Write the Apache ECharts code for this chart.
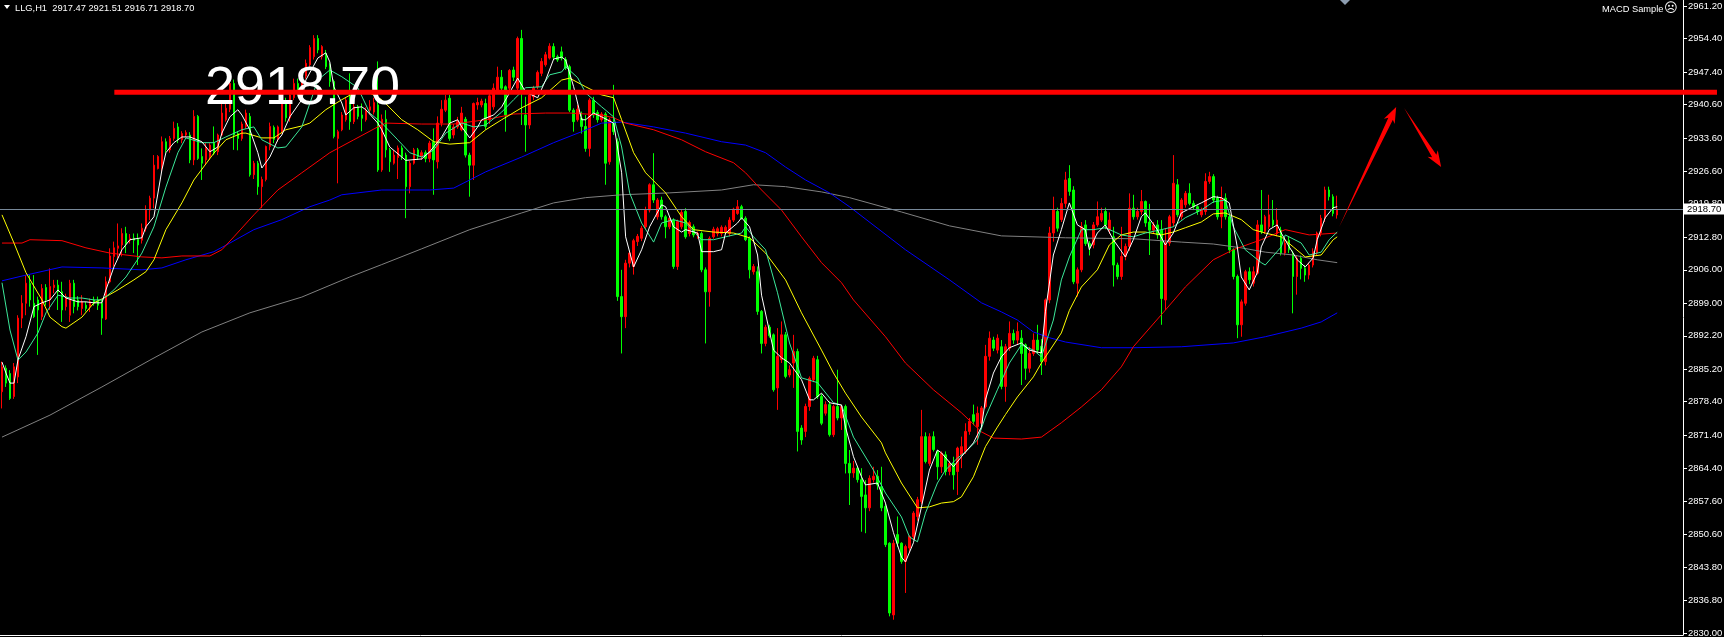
<!DOCTYPE html>
<html><head><meta charset="utf-8">
<script src="https://cdn.jsdelivr.net/npm/echarts@6/dist/echarts.min.js"></script>
<style>html,body{margin:0;padding:0;background:#000;overflow:hidden}#c{width:1724px;height:637px}</style>
</head><body><div id="c"></div>
<script>
// ---- data (H1 bars) ----
const symbol = 'LLG,H1';
const indicatorName = 'MACD Sample';
const open = [2880.5,2885.4,2884.3,2879.5,2883.6,2895.9,2899.0,2903.2,2899.0,2899.7,
2896.2,2902.3,2899.7,2902.3,2902.8,2901.4,2898.3,2896.5,2903.2,2899.7,
2897.9,2898.6,2898.3,2899.7,2899.7,2899.0,2895.7,2903.5,2908.8,2910.5,
2911.2,2913.6,2912.2,2912.6,2912.4,2912.2,2914.7,2918.5,2921.0,2927.2,
2927.5,2932.8,2931.1,2933.5,2935.9,2933.2,2934.2,2934.2,2929.0,2938.1,
2929.7,2929.0,2929.7,2932.5,2930.7,2934.2,2937.4,2939.6,2945.0,2934.5,
2933.5,2936.0,2938.1,2925.9,2928.3,2923.4,2924.9,2931.8,2935.8,2933.3,
2935.0,2941.2,2937.8,2942.0,2945.0,2943.0,2946.5,2948.9,2950.6,2954.4,
2950.6,2951.3,2948.9,2945.4,2933.5,2935.3,2937.4,2942.5,2937.0,2940.1,
2938.4,2937.4,2939.4,2939.0,2940.5,2926.9,2937.5,2931.1,2928.3,2929.5,
2931.5,2930.0,2923.4,2928.3,2931.1,2929.7,2930.5,2929.3,2932.8,2928.6,
2936.7,2939.4,2941.9,2934.2,2935.9,2935.3,2937.5,2930.0,2927.9,2940.5,
2940.5,2940.8,2937.4,2940.1,2943.6,2946.3,2944.3,2944.0,2947.8,2944.0,
2954.4,2938.4,2936.3,2942.2,2944.3,2947.1,2948.9,2950.3,2952.7,2950.6,
2951.6,2950.0,2948.5,2939.4,2937.4,2937.7,2936.0,2931.4,2941.5,2938.9,
2937.4,2938.6,2928.6,2936.7,2932.8,2900.4,2896.2,2907.4,2906.7,2911.9,
2912.6,2915.0,2918.5,2923.8,2917.1,2920.6,2917.1,2915.0,2916.4,2906.7,
2915.0,2918.2,2913.6,2915.0,2913.3,2913.6,2906.0,2901.4,2912.9,2913.6,
2913.6,2913.9,2913.6,2916.4,2917.8,2919.2,2916.8,2912.6,2905.6,2905.6,
2897.3,2890.6,2894.0,2892.4,2881.3,2887.2,2892.4,2884.0,2886.5,2888.9,
2872.9,2872.2,2877.4,2883.0,2887.2,2879.5,2876.0,2877.8,2871.5,2877.4,
2875.0,2877.4,2865.5,2863.5,2864.5,2862.1,2858.9,2856.2,2862.1,2862.8,
2860.6,2856.5,2848.8,2833.8,2850.6,2848.8,2845.0,2847.8,2850.2,2854.4,
2857.5,2871.1,2865.5,2871.1,2868.0,2864.8,2867.3,2863.8,2865.5,2863.8,
2867.3,2868.0,2872.2,2875.7,2873.2,2873.9,2877.4,2887.9,2891.3,2889.2,
2889.9,2881.6,2889.6,2892.7,2891.3,2891.7,2890.3,2885.4,2888.5,2891.3,
2890.0,2886.8,2899.7,2913.7,2918.2,2916.5,2919.9,2925.1,2922.7,2903.2,
2906.0,2915.4,2911.5,2911.2,2915.4,2916.4,2918.2,2914.3,2912.9,2907.0,
2904.6,2908.8,2910.9,2918.9,2917.1,2918.2,2920.3,2916.0,2914.3,2915.4,
2914.3,2899.7,2911.6,2915.8,2923.8,2917.1,2919.6,2922.0,2919.9,2919.2,
2917.5,2918.2,2924.5,2925.5,2921.0,2917.1,2921.0,2917.1,2910.2,2904.6,
2894.5,2899.0,2905.6,2903.2,2905.3,2915.4,2914.0,2915.0,2916.4,2913.6,
2914.3,2909.5,2912.2,2909.5,2904.6,2908.4,2906.3,2904.9,2907.0,2909.5,
2913.7,2916.8,2922.7,2921.3,2917.47];
const high = [2886.8,2886.0,2885.0,2886.5,2896.5,2900.7,2904.9,2904.9,2904.9,2900.4,
2903.0,2903.0,2906.3,2903.9,2903.9,2903.5,2901.0,2903.9,2903.9,2900.5,
2900.7,2899.3,2900.0,2900.4,2900.4,2899.7,2904.6,2910.5,2911.9,2915.7,
2914.7,2915.0,2913.5,2913.6,2913.6,2915.7,2919.5,2921.5,2930.0,2930.0,
2933.9,2933.5,2934.0,2937.0,2936.7,2935.0,2935.2,2934.8,2939.4,2938.4,
2931.4,2932.5,2932.5,2936.0,2934.5,2940.8,2941.0,2946.0,2945.8,2935.0,
2937.0,2939.5,2938.8,2928.8,2928.8,2925.5,2932.0,2936.8,2936.2,2936.2,
2942.0,2942.0,2943.5,2946.0,2946.0,2948.0,2950.0,2953.0,2955.1,2955.1,
2953.0,2952.0,2949.2,2945.8,2935.3,2939.0,2942.0,2947.1,2941.0,2940.5,
2940.8,2940.0,2941.5,2942.0,2949.6,2938.5,2939.4,2931.5,2931.0,2932.0,
2932.0,2930.5,2928.8,2931.5,2931.5,2931.0,2931.0,2933.0,2935.6,2938.1,
2941.5,2942.6,2942.6,2936.5,2938.0,2940.1,2938.0,2930.5,2941.0,2942.0,
2941.8,2941.8,2943.3,2945.0,2948.5,2947.8,2944.6,2948.0,2948.5,2954.8,
2956.2,2942.2,2943.0,2944.5,2947.7,2950.3,2951.6,2953.4,2953.4,2951.0,
2952.7,2950.5,2948.9,2939.8,2940.5,2939.1,2938.4,2941.9,2942.2,2939.4,
2939.0,2939.0,2937.8,2944.7,2933.5,2906.0,2908.1,2910.0,2912.5,2913.5,
2915.2,2919.2,2924.1,2930.4,2921.0,2921.3,2917.5,2917.2,2916.8,2916.5,
2918.5,2918.9,2916.3,2915.5,2914.0,2914.0,2906.5,2913.0,2915.0,2915.0,
2915.3,2915.3,2917.0,2919.0,2920.6,2919.6,2917.2,2913.0,2907.2,2906.7,
2897.6,2894.5,2894.5,2892.7,2893.8,2895.2,2893.0,2886.0,2892.4,2889.5,
2873.5,2878.0,2883.7,2888.0,2888.0,2880.0,2878.5,2878.5,2877.8,2885.1,
2877.8,2877.8,2868.3,2866.0,2865.0,2864.5,2862.0,2863.0,2864.8,2864.1,
2864.8,2857.0,2849.0,2849.5,2854.4,2849.0,2848.5,2850.5,2855.5,2858.5,
2876.7,2872.0,2871.8,2872.2,2868.3,2868.0,2868.0,2866.0,2866.9,2869.0,
2871.1,2873.9,2875.0,2877.8,2877.4,2877.5,2890.3,2893.1,2892.0,2892.5,
2891.3,2890.5,2895.2,2893.5,2895.0,2893.4,2890.6,2889.9,2892.7,2894.5,
2891.5,2900.0,2915.0,2921.3,2919.0,2921.0,2926.5,2927.9,2923.5,2906.5,
2916.0,2916.4,2912.0,2916.0,2920.3,2919.0,2919.0,2918.0,2915.0,2907.5,
2915.0,2911.5,2922.0,2921.7,2919.0,2922.7,2920.5,2919.8,2916.0,2916.4,
2916.4,2914.7,2917.5,2930.0,2925.0,2921.0,2922.5,2924.1,2920.5,2919.5,
2919.0,2926.2,2926.5,2926.0,2921.5,2923.4,2922.0,2917.5,2910.5,2905.0,
2899.8,2906.0,2906.5,2906.7,2916.4,2922.7,2917.5,2921.7,2920.6,2918.9,
2915.0,2912.3,2913.0,2910.0,2909.0,2909.0,2907.0,2907.5,2910.5,2914.0,
2917.5,2923.4,2923.4,2921.8,2921.51];
const low = [2877.0,2881.5,2878.8,2879.0,2882.3,2893.8,2896.5,2898.3,2895.9,2888.2,
2895.5,2898.5,2897.6,2901.1,2897.6,2895.1,2897.5,2895.1,2896.9,2897.5,
2896.5,2897.3,2897.2,2898.5,2897.6,2892.4,2895.5,2903.2,2906.7,2908.4,
2908.8,2909.5,2911.5,2909.5,2907.0,2911.5,2914.0,2916.4,2918.9,2927.0,
2926.5,2930.5,2930.5,2933.0,2932.5,2932.5,2933.8,2928.3,2927.9,2929.0,
2924.8,2928.0,2929.0,2930.0,2930.0,2934.0,2937.0,2939.0,2931.1,2931.0,
2933.0,2935.5,2925.5,2925.0,2921.7,2918.9,2924.5,2931.0,2932.5,2932.8,
2934.5,2937.0,2937.0,2941.5,2942.5,2942.5,2946.0,2948.5,2950.0,2951.3,
2950.0,2948.0,2944.3,2933.5,2924.1,2935.0,2937.0,2935.3,2936.5,2937.5,
2935.0,2937.0,2938.5,2938.5,2926.5,2926.5,2929.5,2926.5,2928.0,2925.0,
2929.0,2916.8,2922.0,2928.0,2929.0,2929.0,2928.5,2928.5,2921.7,2927.2,
2936.0,2939.0,2933.0,2933.5,2935.5,2935.0,2929.5,2921.3,2924.8,2939.5,
2940.0,2935.3,2936.5,2939.5,2943.0,2943.5,2934.9,2943.5,2945.5,2943.5,
2936.3,2930.7,2935.5,2941.5,2943.8,2946.5,2948.5,2950.0,2950.0,2949.5,
2949.8,2947.8,2939.0,2934.9,2937.0,2934.5,2930.7,2929.7,2937.8,2936.8,
2937.0,2923.8,2928.0,2934.2,2899.5,2888.5,2893.8,2906.5,2905.0,2911.0,
2912.0,2914.5,2918.0,2920.0,2916.5,2916.5,2912.6,2914.5,2906.2,2906.0,
2914.5,2912.5,2913.0,2912.8,2912.5,2905.5,2890.6,2898.3,2912.5,2913.0,
2913.0,2913.5,2913.0,2916.0,2917.5,2916.5,2912.0,2904.2,2905.0,2896.6,
2888.5,2890.0,2891.8,2880.5,2876.7,2886.5,2883.3,2883.5,2881.3,2868.0,
2869.4,2871.0,2876.5,2882.5,2879.0,2873.5,2875.5,2871.1,2871.0,2874.5,
2872.5,2863.4,2856.8,2862.5,2861.5,2851.2,2850.9,2855.5,2861.5,2860.0,
2855.5,2848.0,2833.5,2832.8,2848.0,2844.5,2838.4,2847.0,2849.5,2853.5,
2857.0,2865.5,2865.0,2868.0,2862.1,2863.5,2863.0,2863.0,2860.0,2858.9,
2864.5,2867.5,2871.5,2873.5,2869.4,2873.0,2877.0,2887.0,2889.0,2888.5,
2881.0,2878.4,2889.0,2890.5,2890.5,2881.9,2883.0,2884.5,2888.0,2888.5,
2884.0,2886.0,2899.0,2911.9,2914.0,2916.0,2919.0,2921.5,2903.0,2900.4,
2905.5,2911.0,2909.0,2910.5,2915.0,2916.0,2914.5,2913.5,2902.5,2904.0,
2903.9,2908.0,2910.0,2916.5,2916.5,2917.5,2915.0,2909.1,2913.5,2912.5,
2894.5,2897.6,2911.0,2915.0,2917.0,2916.5,2919.0,2919.5,2918.5,2917.5,
2917.0,2917.5,2924.0,2920.0,2916.5,2914.7,2916.5,2909.5,2904.0,2891.7,
2892.0,2898.5,2903.0,2902.5,2905.0,2913.5,2913.5,2914.5,2915.0,2913.0,
2909.0,2909.0,2909.5,2896.9,2900.8,2904.0,2903.5,2904.0,2906.5,2909.0,
2913.0,2916.0,2920.5,2917.2,2916.71];
const close = [2885.7,2882.3,2879.1,2885.7,2895.9,2899.0,2903.2,2899.7,2896.2,2897.6,
2902.1,2899.7,2902.5,2902.8,2901.4,2897.6,2900.4,2903.2,2898.3,2898.3,
2899.3,2897.9,2899.3,2899.0,2898.6,2895.9,2903.5,2908.9,2910.6,2911.0,
2913.6,2911.5,2912.6,2912.2,2911.2,2914.7,2918.5,2921.0,2927.9,2929.7,
2932.8,2931.1,2933.5,2935.6,2933.2,2934.5,2934.7,2929.0,2938.1,2929.3,
2928.3,2931.4,2932.1,2930.4,2934.2,2938.8,2939.8,2945.0,2934.2,2933.5,
2936.5,2938.8,2925.9,2928.3,2923.4,2924.9,2931.8,2936.0,2933.3,2935.9,
2941.2,2937.8,2942.6,2945.0,2943.0,2947.1,2949.2,2952.5,2954.4,2952.0,
2952.7,2948.5,2945.4,2933.9,2934.9,2938.4,2941.5,2937.0,2940.1,2938.1,
2937.7,2939.4,2940.1,2941.0,2926.9,2937.5,2931.1,2928.6,2930.0,2931.5,
2929.7,2923.4,2928.3,2931.1,2929.7,2930.5,2929.3,2932.5,2929.0,2936.7,
2939.6,2941.5,2933.5,2935.9,2937.0,2938.8,2930.0,2927.9,2940.8,2941.0,
2941.3,2936.0,2942.4,2944.0,2946.3,2944.0,2938.4,2947.7,2946.3,2954.4,
2943.3,2936.3,2942.6,2944.0,2947.3,2949.6,2951.0,2952.8,2950.5,2949.9,
2950.3,2948.2,2939.4,2937.0,2939.6,2936.0,2931.4,2941.5,2938.4,2937.4,
2938.6,2928.3,2937.4,2934.9,2900.4,2896.2,2907.4,2909.5,2912.1,2913.0,
2914.7,2918.5,2923.8,2920.6,2920.6,2917.1,2915.0,2916.8,2906.7,2916.1,
2918.0,2912.9,2915.9,2913.3,2913.6,2906.0,2901.4,2912.6,2914.5,2914.6,
2914.9,2914.9,2916.4,2918.7,2919.2,2916.8,2912.3,2906.0,2906.7,2897.3,
2890.6,2894.0,2892.2,2880.9,2887.9,2892.4,2883.7,2885.1,2888.9,2872.2,
2870.4,2877.4,2883.3,2887.5,2879.5,2873.9,2877.8,2871.5,2877.4,2875.0,
2877.4,2865.5,2863.5,2864.5,2862.1,2858.6,2856.2,2862.4,2862.8,2861.0,
2856.2,2848.5,2834.2,2848.8,2848.8,2845.0,2848.1,2850.2,2855.1,2857.9,
2871.1,2865.9,2871.1,2868.4,2864.8,2867.6,2863.8,2865.5,2863.1,2868.7,
2869.0,2872.2,2874.3,2874.3,2876.0,2877.1,2887.9,2891.7,2889.6,2891.7,
2881.6,2889.9,2892.7,2891.3,2893.1,2888.5,2885.4,2888.5,2891.3,2889.2,
2886.8,2899.7,2913.7,2918.5,2914.7,2919.9,2924.8,2922.4,2903.5,2906.0,
2915.0,2911.5,2910.9,2915.4,2917.1,2917.8,2915.4,2916.4,2907.0,2904.6,
2908.8,2910.9,2918.9,2917.1,2918.2,2920.3,2915.8,2914.3,2915.4,2913.3,
2900.0,2911.6,2917.1,2924.1,2917.5,2920.6,2922.0,2919.9,2919.2,2918.2,
2918.5,2924.5,2925.5,2920.6,2917.1,2921.0,2917.1,2910.2,2904.6,2894.5,
2899.3,2905.6,2903.9,2905.6,2915.4,2914.0,2917.1,2917.5,2915.4,2916.4,
2909.5,2911.6,2910.2,2904.6,2908.4,2906.3,2904.9,2907.0,2909.8,2913.7,
2916.8,2922.7,2921.3,2917.8,2918.70];

// moving-average lines, read at points along each line: [bar, price]
const maWhite = [[0,2886.7],[1,2884.4],[2,2882.3],[3,2882.3],[4,2887.2],[6,2892.0],[8,2898.3],[10,2899.1],[12,2899.7],[14,2901.8],[16,2900.1],[19,2899.3],[21,2899.3],[23,2899.1],[25,2899.1],[26,2901.8],[28,2906.6],[30,2910.2],[32,2912.3],[35,2912.7],[36,2915.0],[38,2917.1],[40,2926.9],[41,2930.5],[43,2932.6],[45,2933.8],[47,2933.8],[50,2932.8],[52,2930.7],[54,2931.7],[55,2934.6],[57,2938.0],[59,2939.5],[60,2938.4],[62,2935.3],[64,2930.5],[65,2927.3],[67,2929.6],[69,2933.2],[70,2934.2],[72,2938.0],[75,2941.6],[76,2945.7],[79,2950.3],[81,2951.4],[82,2949.5],[83,2944.3],[85,2940.9],[86,2938.4],[88,2939.9],[90,2940.1],[91,2939.5],[94,2936.7],[95,2935.3],[97,2931.7],[100,2929.6],[101,2928.9],[105,2929.2],[107,2930.7],[110,2933.8],[112,2936.7],[114,2937.4],[115,2935.9],[117,2933.6],[119,2935.9],[120,2937.4],[123,2938.4],[125,2940.1],[129,2946.1],[131,2943.2],[134,2942.0],[136,2945.7],[138,2950.1],[140,2950.5],[141,2949.9],[143,2944.3],[145,2937.4],[146,2937.4],[148,2938.8],[150,2938.0],[153,2936.7],[155,2926.3],[156,2912.9],[158,2906.6],[160,2910.2],[162,2915.0],[165,2919.6],[166,2919.2],[168,2915.0],[170,2913.9],[171,2914.4],[174,2913.7],[175,2909.8],[178,2909.8],[180,2910.2],[181,2913.7],[184,2915.8],[185,2916.9],[187,2915.0],[189,2909.1],[190,2900.7],[193,2889.2],[195,2887.6],[197,2886.5],[200,2883.0],[202,2878.8],[203,2878.8],[205,2880.2],[207,2878.2],[210,2877.7],[211,2873.1],[213,2866.9],[215,2862.7],[216,2861.0],[219,2861.4],[221,2857.2],[223,2851.0],[225,2845.9],[226,2844.9],[228,2848.9],[230,2856.4],[232,2864.1],[234,2868.3],[235,2867.7],[238,2864.8],[240,2866.9],[243,2869.8],[245,2873.1],[246,2878.8],[248,2884.4],[250,2887.8],[252,2889.7],[255,2890.7],[257,2889.2],[260,2888.6],[261,2897.2],[263,2909.1],[265,2914.4],[267,2920.0],[269,2915.4],[271,2914.4],[272,2910.2],[274,2913.7],[276,2915.4],[278,2912.3],[281,2908.7],[283,2912.3],[285,2917.1],[286,2917.9],[289,2914.4],[291,2911.2],[293,2913.7],[295,2917.9],[298,2919.2],[300,2920.0],[303,2921.3],[305,2921.1],[307,2920.0],[309,2910.8],[310,2904.5],[312,2901.8],[314,2905.4],[315,2910.8],[317,2914.4],[319,2915.4],[320,2913.7],[322,2910.8],[324,2908.1],[326,2906.6],[328,2908.5],[329,2912.3],[331,2916.9],[333,2919.0],[334,2919.2]];
const maAqua = [[0,2903.3],[2,2893.4],[4,2887.1],[6,2888.8],[9,2892.8],[11,2897.0],[14,2900.7],[17,2900.1],[20,2900.1],[23,2899.7],[25,2899.7],[28,2901.8],[31,2904.5],[35,2909.5],[38,2915.0],[41,2923.3],[44,2930.5],[46,2933.6],[50,2932.6],[53,2932.6],[56,2933.8],[60,2935.3],[63,2935.9],[65,2933.2],[69,2931.5],[71,2931.7],[75,2935.9],[79,2945.7],[82,2947.8],[85,2946.4],[89,2944.1],[92,2938.8],[95,2936.7],[99,2933.2],[102,2930.5],[105,2929.6],[108,2931.1],[111,2934.6],[115,2936.7],[118,2935.9],[121,2936.3],[125,2939.0],[128,2941.6],[131,2944.1],[135,2944.3],[137,2946.8],[140,2947.4],[141,2948.5],[144,2946.2],[146,2943.0],[150,2940.1],[153,2938.0],[155,2931.7],[157,2922.1],[160,2915.8],[163,2911.8],[165,2915.8],[168,2916.5],[171,2915.8],[175,2912.3],[178,2912.3],[181,2912.9],[185,2913.7],[186,2915.0],[188,2912.9],[191,2910.2],[194,2901.2],[197,2890.7],[200,2883.4],[204,2882.4],[208,2878.2],[210,2877.7],[213,2871.0],[218,2864.1],[221,2859.3],[225,2854.3],[227,2850.1],[229,2849.1],[231,2855.1],[234,2861.4],[236,2864.1],[239,2866.6],[241,2867.9],[244,2870.4],[246,2875.2],[249,2880.9],[252,2886.5],[255,2890.3],[258,2889.2],[260,2887.8],[263,2895.5],[265,2903.9],[267,2908.7],[270,2914.4],[273,2914.4],[276,2914.8],[280,2913.3],[283,2912.9],[286,2913.7],[290,2914.4],[293,2915.0],[296,2916.9],[300,2918.5],[303,2920.2],[306,2920.6],[308,2915.0],[311,2910.2],[315,2907.5],[316,2907.0],[320,2910.8],[321,2913.3],[325,2911.6],[327,2909.1],[330,2909.7],[332,2912.3],[334,2913.9]];
const maYellow = [[0,2917.5],[3,2911.6],[6,2905.4],[10,2899.7],[12,2896.1],[15,2894.1],[16,2893.8],[20,2896.1],[23,2899.1],[25,2899.9],[29,2901.8],[33,2903.9],[36,2905.6],[38,2908.1],[41,2914.4],[45,2920.0],[48,2924.8],[53,2930.4],[56,2933.2],[60,2934.6],[61,2934.6],[65,2933.6],[68,2933.6],[71,2935.3],[75,2936.1],[77,2936.7],[81,2939.5],[85,2941.6],[88,2943.0],[92,2943.0],[95,2941.6],[100,2937.4],[104,2935.3],[108,2932.8],[112,2932.3],[117,2932.6],[121,2935.3],[125,2937.4],[130,2939.9],[135,2942.0],[140,2945.7],[142,2946.1],[146,2944.3],[150,2942.6],[153,2942.0],[155,2937.4],[158,2930.5],[161,2926.3],[166,2922.1],[170,2917.1],[173,2914.4],[178,2913.9],[183,2913.7],[187,2912.7],[191,2909.5],[196,2903.9],[200,2897.0],[205,2889.2],[208,2884.4],[211,2880.2],[215,2875.2],[220,2869.8],[221,2867.7],[225,2861.4],[229,2856.2],[232,2856.4],[235,2857.2],[238,2857.5],[240,2858.5],[243,2862.7],[246,2869.0],[249,2873.1],[251,2875.7],[254,2879.4],[258,2883.6],[260,2886.5],[265,2892.8],[267,2897.5],[270,2902.4],[274,2906.0],[277,2911.2],[280,2913.3],[283,2913.9],[286,2913.9],[290,2913.3],[293,2913.9],[296,2914.8],[300,2916.0],[303,2917.7],[306,2917.9],[310,2916.5],[313,2914.4],[316,2913.7],[320,2912.9],[323,2910.8],[326,2908.7],[330,2909.1],[333,2912.3],[334,2912.9]];
const maRed = [[0,2911.6],[5,2911.6],[7,2912.3],[15,2912.1],[21,2910.6],[27,2909.5],[35,2908.7],[40,2908.5],[45,2908.9],[52,2908.9],[55,2910.2],[58,2912.9],[63,2917.5],[69,2922.7],[75,2926.3],[82,2930.5],[88,2933.2],[94,2935.9],[96,2936.7],[105,2936.5],[113,2936.5],[121,2937.4],[128,2938.6],[136,2938.8],[142,2938.8],[150,2938.4],[153,2937.8],[156,2936.7],[163,2935.3],[170,2933.2],[176,2930.7],[183,2928.4],[186,2926.3],[190,2922.7],[195,2918.5],[200,2912.9],[205,2907.5],[210,2903.3],[213,2899.7],[221,2892.0],[226,2886.5],[233,2880.9],[240,2876.1],[245,2872.1],[248,2870.8],[255,2870.6],[260,2871.0],[265,2874.0],[270,2877.3],[275,2880.9],[280,2885.7],[283,2889.9],[290,2896.6],[296,2902.4],[303,2908.1],[308,2910.2],[315,2912.3],[321,2914.4],[327,2913.3],[334,2913.7]];
const maBlue = [[0,2903.7],[6,2904.9],[15,2906.6],[25,2906.4],[35,2906.0],[40,2906.4],[46,2908.1],[53,2909.8],[57,2911.6],[63,2914.4],[70,2916.5],[77,2919.2],[82,2920.6],[85,2921.7],[95,2922.7],[107,2922.7],[113,2923.1],[121,2926.5],[130,2929.6],[138,2932.6],[145,2934.9],[150,2936.7],[155,2936.9],[163,2935.9],[171,2934.6],[180,2932.8],[186,2932.1],[191,2930.5],[196,2927.5],[201,2924.8],[207,2922.1],[212,2919.2],[226,2910.2],[237,2903.9],[245,2899.1],[250,2897.2],[254,2895.5],[258,2893.0],[262,2891.8],[266,2890.9],[275,2889.7],[283,2889.7],[295,2889.9],[308,2890.7],[316,2892.0],[325,2893.8],[330,2895.1],[334,2897.0]];
const maGray = [[0,2871.0],[12,2875.6],[25,2881.5],[37,2887.1],[50,2893.0],[62,2897.0],[75,2900.3],[87,2904.5],[95,2907.1],[105,2910.4],[117,2914.4],[130,2917.9],[138,2920.0],[146,2921.1],[155,2921.7],[167,2922.1],[180,2922.7],[188,2923.8],[196,2923.4],[205,2922.3],[212,2921.1],[225,2918.1],[237,2915.2],[250,2913.1],[266,2912.7],[283,2912.5],[295,2911.8],[303,2911.4],[310,2910.6],[316,2909.7],[323,2909.1],[329,2908.1],[334,2907.5]];

const priceTicks = [2961.20,2954.40,2947.40,2940.60,2933.60,2926.60,2919.80,2912.80,2906.00,2899.00,2892.20,2885.20,2878.40,2871.40,2864.40,2857.60,2850.60,2843.80,2836.80,2830.00];
const futureSlots = 86;                 // empty bars to the right (chart shift)
// drawn objects: [bar, price]
const levelLine = {price: 2943.14, fromBar: 28.1, toBar: 429};
const arrowUp = [334.5, 2914.96, 348.75, 2940.07];
const arrowDown = [350.75, 2939.86, 360.0, 2927.51];
const bigLabel = {text: '2918.70', bar: 50.75, price: 2943.9};

// ---- chart ----
const n = open.length;
const cats = Array.from({length: n + futureSlots}, (_, i) => String(i));
const candles = open.map((o, i) => [o, close[i], Math.min(low[i], o, close[i]), Math.max(high[i], o, close[i])]);
const lastClose = close[n - 1];

const chart = echarts.init(document.getElementById('c'), null, {renderer: 'canvas'});
const maSeries = (data, color) => ({type: 'line', data, showSymbol: false, symbol: 'none', silent: true,
  lineStyle: {color, width: 1}, z: 3, animation: false});

chart.setOption({
  backgroundColor: '#000000',
  animation: false,
  grid: {left: 0, right: 41, top: 0, bottom: 2, containLabel: false, outerBoundsMode: 'none'},
  xAxis: {type: 'category', data: cats, boundaryGap: true,
    axisLine: {show: true, lineStyle: {color: '#ffffff', width: 1}},
    axisTick: {show: false}, axisLabel: {show: false}, splitLine: {show: false}},
  yAxis: {type: 'value', position: 'right', min: 2829.6, max: 2962.45, scale: true,
    splitLine: {show: false},
    axisLine: {show: true, lineStyle: {color: '#ffffff', width: 1}},
    axisTick: {show: true, length: 4, lineStyle: {color: '#ffffff'}, customValues: priceTicks},
    axisLabel: {show: true, color: '#ffffff', fontSize: 9.5, fontFamily: 'Liberation Sans', margin: 5,
      customValues: priceTicks, formatter: v => Number(v).toFixed(2)}},
  series: [
    {type: 'candlestick', data: candles, barWidth: 2, z: 2,
      itemStyle: {color: '#ff0000', color0: '#00ff00', borderColor: '#ff0000', borderColor0: '#00ff00', borderWidth: 1},
      markLine: {silent: true, symbol: ['none', 'none'], animation: false,
        lineStyle: {color: '#778899', width: 1, type: 'solid'},
        label: {show: true, position: 'end', distance: 0, formatter: lastClose.toFixed(2),
          color: '#000000', backgroundColor: '#ffffff', padding: [1, 4, 0, 4],
          fontSize: 9.5, fontFamily: 'Liberation Sans', lineHeight: 10},
        data: [{yAxis: lastClose}]}},
    maSeries(maGray, '#808080'),
    maSeries(maBlue, '#0000ff'),
    maSeries(maRed, '#ff0000'),
    maSeries(maYellow, '#ffff00'),
    maSeries(maAqua, '#3ce89a'),
    maSeries(maWhite, '#ffffff')
  ]
});

// pixel helpers through the chart's own scales
const p0 = chart.convertToPixel({gridIndex: 0}, [0, lastClose]);
const p1 = chart.convertToPixel({gridIndex: 0}, [1, lastClose]);
const slot = p1[0] - p0[0];
const px = (bar, price) => [p0[0] + bar * slot, chart.convertToPixel({gridIndex: 0}, [0, price])[1]];

function arrowPoints(a, headLen, headHalf, shaftHalf) {
  const [x1, y1] = px(a[0], a[1]);
  const [x2, y2] = px(a[2], a[3]);
  const dx = x2 - x1, dy = y2 - y1, len = Math.hypot(dx, dy);
  const ux = dx / len, uy = dy / len, nx = -uy, ny = ux;
  const bx = x2 - ux * headLen, by = y2 - uy * headLen;
  const cx = x2 - ux * (headLen - 3), cy = y2 - uy * (headLen - 3);
  return [[x1, y1], [cx + nx * shaftHalf, cy + ny * shaftHalf], [bx + nx * headHalf, by + ny * headHalf],
    [x2, y2], [bx - nx * headHalf, by - ny * headHalf], [cx - nx * shaftHalf, cy - ny * shaftHalf]];
}

const L0 = px(levelLine.fromBar, levelLine.price);
const L1 = px(levelLine.toBar, levelLine.price);
const T = px(bigLabel.bar, bigLabel.price);
const hdr = symbol + '  ' + [open[n-1], high[n-1], low[n-1], close[n-1]].map(v => v.toFixed(2)).join(' ');

chart.setOption({
  graphic: [
    {type: 'text', z: 50, silent: true, x: T[0], y: T[1],
      style: {text: bigLabel.text, fill: '#ffffff', font: '54px "Liberation Sans"', verticalAlign: 'middle', align: 'left'}},
    {type: 'line', z: 60, silent: true, shape: {x1: L0[0], y1: L0[1], x2: L1[0], y2: L1[1]},
      style: {stroke: '#ff0000', lineWidth: 5}},
    {type: 'polygon', z: 61, silent: true, shape: {points: arrowPoints(arrowUp, 16, 6, 2.5)}, style: {fill: '#ff0000'}},
    {type: 'polygon', z: 61, silent: true, shape: {points: arrowPoints(arrowDown, 16, 6, 2.5)}, style: {fill: '#ff0000'}},
    {type: 'polygon', z: 70, silent: true, shape: {points: [[4, 5], [10, 5], [7, 9]]}, style: {fill: '#ffffff'}},
    {type: 'text', z: 70, silent: true, x: 15, y: 8,
      style: {text: hdr, fill: '#ffffff', font: '9.3px "Liberation Sans"', verticalAlign: 'middle'}},
    {type: 'text', z: 70, silent: true, x: 1602, y: 9,
      style: {text: indicatorName, fill: '#ffffff', font: '9.3px "Liberation Sans"', verticalAlign: 'middle'}},
    {type: 'text', z: 70, silent: true, x: 1664, y: 9,
      style: {text: '\u2639', fill: '#ffffff', font: '13px "DejaVu Sans"', verticalAlign: 'middle'}},
    {type: 'polygon', z: 70, silent: true, shape: {points: [[1340, 0], [1350, 0], [1345, 5]]}, style: {fill: '#8d9db0'}}
  ]
});
</script>
</body></html>
